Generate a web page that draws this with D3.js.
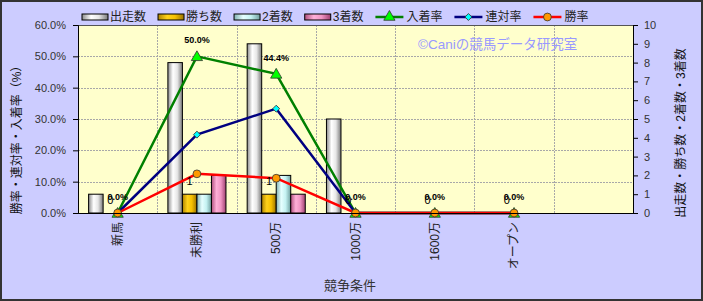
<!DOCTYPE html>
<html>
<head>
<meta charset="utf-8">
<script src="https://cdn.jsdelivr.net/npm/d3@7"></script>
<style>
  body { margin: 0; background: #ccccff; }
  svg { display: block; font-family: "Liberation Sans", "Noto Sans CJK JP", sans-serif; }
</style>
</head>
<body>
<svg id="chart"></svg>
<script>
var categories = ["新馬", "未勝利", "500万", "1000万", "1600万", "オープン", ""];
var starts   = [1, 8, 9, 5, 0, 0, null];
var wins     = [0, 1, 1, 0, 0, 0, null];
var seconds  = [0, 1, 2, 0, 0, 0, null];
var thirds   = [0, 2, 1, 0, 0, 0, null];
var placeRate   = [0, 50.0, 44.4, 0, 0, 0, null];
var rentaiRate  = [0, 25.0, 33.3, 0, 0, 0, null];
var winRate     = [0, 12.5, 11.1, 0, 0, 0, null];
var leftTicks  = [0, 10, 20, 30, 40, 50, 60];
var rightTicks = [0, 1, 2, 3, 4, 5, 6, 7, 8, 9, 10];

var W = 703, H = 301;
var plot = { left: 78, right: 633, top: 25, bottom: 213 };

var svg = d3.select("#chart").attr("width", W).attr("height", H);

// gradients for the cylinder-ish bars
var barSeries = [
  { key: "starts",  name: "出走数", values: starts,  stops: ["#8c8c8c", "#ffffff", "#e6e6e6", "#7a7a7a"] },
  { key: "wins",    name: "勝ち数", values: wins,    stops: ["#b08400", "#ffd21a", "#f5c000", "#9a7200"] },
  { key: "seconds", name: "2着数",  values: seconds, stops: ["#80b0b0", "#e6ffff", "#c4f2f2", "#70a0a0"] },
  { key: "thirds",  name: "3着数",  values: thirds,  stops: ["#b0507e", "#ffb0d8", "#f095c3", "#a04070"] }
];
var lineSeries = [
  { key: "place",  name: "入着率", values: placeRate,  color: "#008000", fill: "#00ff00", shape: d3.symbolTriangle, size: 55, rot: 0 },
  { key: "rentai", name: "連対率", values: rentaiRate, color: "#000080", fill: "#00ffff", shape: d3.symbolSquare,   size: 24, rot: 45 },
  { key: "win",    name: "勝率",   values: winRate,    color: "#ff0000", fill: "#ff9900", shape: d3.symbolCircle,   size: 48, rot: 0 }
];

var defs = svg.append("defs");
barSeries.forEach(function(s) {
  var g = defs.append("linearGradient").attr("id", "g-" + s.key)
    .attr("x1", "0").attr("x2", "1").attr("y1", "0").attr("y2", "0");
  g.append("stop").attr("offset", "0%").attr("stop-color", s.stops[0]);
  g.append("stop").attr("offset", "35%").attr("stop-color", s.stops[1]);
  g.append("stop").attr("offset", "65%").attr("stop-color", s.stops[2]);
  g.append("stop").attr("offset", "100%").attr("stop-color", s.stops[3]);
});

// background + frame
svg.append("rect").attr("x", 1).attr("y", 1).attr("width", W - 2).attr("height", H - 2)
  .attr("fill", "#ccccff").attr("stroke", "#333").attr("stroke-width", 2);

var x = d3.scaleBand().domain(d3.range(categories.length)).range([plot.left, plot.right]).padding(0);
var sub = d3.scaleBand().domain(barSeries.map(function(s) { return s.key; }))
  .range([0, x.bandwidth()]).paddingInner(0).paddingOuter(0.73);
var yL = d3.scaleLinear().domain([0, 60]).range([plot.bottom, plot.top]);
var yR = d3.scaleLinear().domain([0, 10]).range([plot.bottom, plot.top]);

svg.append("rect").attr("x", plot.left).attr("y", plot.top)
  .attr("width", plot.right - plot.left).attr("height", plot.bottom - plot.top)
  .attr("fill", "#ffffcc");

// gridlines
var grid = svg.append("g").attr("stroke", "#a8a8a8").attr("stroke-dasharray", "2,1").attr("stroke-width", 1);
grid.selectAll(".hg").data(leftTicks.slice(1, -1)).enter().append("line")
  .attr("x1", plot.left).attr("x2", plot.right)
  .attr("y1", function(d) { return Math.round(yL(d)) + 0.5; })
  .attr("y2", function(d) { return Math.round(yL(d)) + 0.5; });
grid.selectAll(".vg").data(d3.range(1, categories.length)).enter().append("line")
  .attr("y1", plot.top).attr("y2", plot.bottom)
  .attr("x1", function(d) { return Math.round(x(d)) + 0.5; })
  .attr("x2", function(d) { return Math.round(x(d)) + 0.5; });

svg.append("rect").attr("x", plot.left + 0.5).attr("y", plot.top + 0.5)
  .attr("width", plot.right - plot.left).attr("height", plot.bottom - plot.top)
  .attr("fill", "none").attr("stroke", "#555");

// bars
barSeries.forEach(function(s) {
  svg.append("g").selectAll("rect")
    .data(s.values.map(function(v, i) { return { v: v, i: i }; }).filter(function(d) { return d.v > 0; }))
    .enter().append("rect")
      .attr("x", function(d) { return x(d.i) + sub(s.key); })
      .attr("width", sub.bandwidth())
      .attr("y", function(d) { return yR(d.v); })
      .attr("height", function(d) { return yR(0) - yR(d.v); })
      .attr("fill", "url(#g-" + s.key + ")")
      .attr("stroke", "#000").attr("stroke-width", 1);
});

// lines
lineSeries.forEach(function(s) {
  var pts = s.values.map(function(v, i) { return { v: v, i: i }; }).filter(function(d) { return d.v != null; });
  svg.append("path").datum(pts)
    .attr("fill", "none").attr("stroke", s.color).attr("stroke-width", 2.5)
    .attr("d", d3.line()
      .x(function(d) { return x(d.i) + x.bandwidth() / 2; })
      .y(function(d) { return yL(d.v); }));
  s.pts = pts;
});
lineSeries.forEach(function(s) {
  svg.append("g").selectAll("path").data(s.pts).enter().append("path")
    .attr("transform", function(d) {
      var dy = s.shape === d3.symbolTriangle ? 1 : 0;
      return "translate(" + (x(d.i) + x.bandwidth() / 2) + "," + (yL(d.v) + dy) + ") rotate(" + s.rot + ")";
    })
    .attr("d", d3.symbol().type(s.shape).size(s.size))
    .attr("fill", s.fill).attr("stroke", "#333").attr("stroke-width", 0.8);
});

// data labels: win counts above bars, place rate above markers
svg.append("g").selectAll("text")
  .data(wins.map(function(v, i) { return { v: v, i: i }; }).filter(function(d) { return d.v != null; }))
  .enter().append("text")
    .attr("x", function(d) { return x(d.i) + sub("wins") + sub.bandwidth() / 2; })
    .attr("y", function(d) { return yR(d.v) - 9; })
    .attr("text-anchor", "middle").attr("font-size", 11).attr("fill", "#000")
    .text(function(d) { return d.v; });
svg.append("g").selectAll("text")
  .data(lineSeries[0].pts)
  .enter().append("text")
    .attr("x", function(d) { return x(d.i) + x.bandwidth() / 2; })
    .attr("y", function(d) { return yL(d.v) - 13; })
    .attr("text-anchor", "middle").attr("font-size", 9).attr("font-weight", "bold").attr("fill", "#000")
    .text(function(d) { return d.v.toFixed(1) + "%"; });

// axes
var axL = svg.append("g").attr("transform", "translate(" + plot.left + ",0)")
  .call(d3.axisLeft(yL).tickValues(leftTicks).tickSize(5).tickPadding(7)
    .tickFormat(function(d) { return d.toFixed(1) + "%"; }));
var axR = svg.append("g").attr("transform", "translate(" + plot.right + ",0)")
  .call(d3.axisRight(yR).tickValues(rightTicks).tickSize(5).tickPadding(6)
    .tickFormat(d3.format("d")));
var axB = svg.append("g").attr("transform", "translate(0," + plot.bottom + ")")
  .call(d3.axisBottom(x).tickSize(0).tickFormat(function(i) { return categories[i]; }));
[axL, axR, axB].forEach(function(a) {
  a.select(".domain").attr("stroke", "#000");
  a.selectAll(".tick line").attr("stroke", "#000");
  a.selectAll("text").attr("font-size", 11).attr("fill", "#333")
    .attr("font-family", "\"Liberation Sans\", \"Noto Sans CJK JP\", sans-serif");
});
axB.selectAll("text")
  .attr("font-size", 12).attr("fill", "#222")
  .attr("text-anchor", "end").attr("y", 0).attr("dy", "0.35em")
  .attr("transform", "translate(0,9) rotate(-90)");

// titles
svg.append("text").attr("transform", "translate(17,137) rotate(-90)")
  .attr("text-anchor", "middle").attr("dy", "0.35em").attr("font-size", 12).attr("fill", "#111")
  .text("勝率・連対率・入着率（%）");
svg.append("text").attr("transform", "translate(681,133) rotate(-90)")
  .attr("text-anchor", "middle").attr("dy", "0.35em").attr("font-size", 12).attr("fill", "#111")
  .text("出走数・勝ち数・2着数・3着数");
svg.append("text").attr("x", 350).attr("y", 285).attr("dy", "0.35em")
  .attr("text-anchor", "middle").attr("font-size", 13).attr("fill", "#333")
  .text("競争条件");
svg.append("text").attr("x", 418).attr("y", 44).attr("dy", "0.35em")
  .attr("font-size", 13.5).attr("fill", "#9999ff")
  .text("©Caniの競馬データ研究室");

// legend
var legend = svg.append("g");
var lx = 82, ly = 17;
barSeries.forEach(function(s) {
  legend.append("rect").attr("x", lx).attr("y", ly - 3).attr("width", 26).attr("height", 6)
    .attr("fill", "url(#g-" + s.key + ")").attr("stroke", "#000");
  var t = legend.append("text").attr("x", lx + 28).attr("y", ly).attr("dy", "0.35em")
    .attr("font-size", 12).attr("fill", "#222").text(s.name);
  lx += 28 + t.node().getComputedTextLength() + 12;
});
lineSeries.forEach(function(s) {
  legend.append("line").attr("x1", lx).attr("x2", lx + 28).attr("y1", ly).attr("y2", ly)
    .attr("stroke", s.color).attr("stroke-width", 2.5);
  legend.append("path").attr("transform", "translate(" + (lx + 14) + "," + ly + ") rotate(" + s.rot + ")")
    .attr("d", d3.symbol().type(s.shape).size(s.size))
    .attr("fill", s.fill).attr("stroke", "#333").attr("stroke-width", 0.8);
  var t = legend.append("text").attr("x", lx + 31).attr("y", ly).attr("dy", "0.35em")
    .attr("font-size", 12).attr("fill", "#222").text(s.name);
  lx += 31 + t.node().getComputedTextLength() + 12;
});
</script>
</body>
</html>
